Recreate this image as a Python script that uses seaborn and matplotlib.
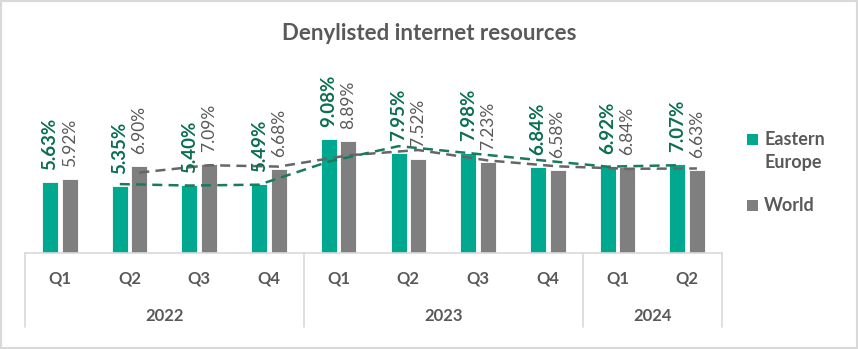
import numpy as np
import pandas as pd
import matplotlib
matplotlib.use("Agg")
import matplotlib.pyplot as plt
import seaborn as sns
from matplotlib.patches import Rectangle

# ---- data ----
quarters = ["Q1", "Q2", "Q3", "Q4", "Q1", "Q2", "Q3", "Q4", "Q1", "Q2"]
years = ["2022"] * 4 + ["2023"] * 4 + ["2024"] * 2
year_groups = ["2022", "2023", "2024"]
eastern_europe = [5.63, 5.35, 5.40, 5.49, 9.08, 7.95, 7.98, 6.84, 6.92, 7.07]
world = [5.92, 6.90, 7.09, 6.68, 8.89, 7.52, 7.23, 6.58, 6.84, 6.63]
series_names = ["Eastern Europe", "World"]
legend_labels = ["Eastern\nEurope", "World"]
title = "Denylisted internet resources"

# ---- style ----
sns.set_theme(style="white")
plt.rcParams["font.family"] = ["Lato", "DejaVu Sans"]

TEXT = "#595959"
TEAL = "#00A88F"
GRAY = "#7F7F7F"
TEAL_DARK = "#0B6E52"
LINE_GRAY = "#D9D9D9"

periods = [f"{y} {q}" for y, q in zip(years, quarters)]
df = pd.DataFrame({
    "period": periods * 2,
    "value": eastern_europe + world,
    "series": [series_names[0]] * len(periods) + [series_names[1]] * len(periods),
})

W, H = 858, 349
fig = plt.figure(figsize=(W / 100, H / 100), dpi=100)
ax_left, ax_right, ax_bottom, ax_top = 25, 722, 253, 60
ax = fig.add_axes([ax_left / W, 1 - ax_bottom / H, (ax_right - ax_left) / W, (ax_bottom - ax_top) / H])

palette = {series_names[0]: TEAL, series_names[1]: GRAY}
sns.barplot(data=df, x="period", y="value", hue="series", palette=palette,
            width=0.56, gap=0.18, saturation=1, ax=ax, legend=False,
            edgecolor="white", linewidth=0.6, order=periods, hue_order=series_names)

ax.set_xlim(-0.5, len(periods) - 0.5)
ax.set_ylim(0, (ax_bottom - ax_top) / 12.55)

# ---- 2-period moving average trendlines ----
x = np.arange(len(periods))
off = 0.14
ma_ee = pd.Series(eastern_europe).rolling(2).mean()
ma_w = pd.Series(world).rolling(2).mean()
sns.lineplot(x=x[1:] + off, y=ma_w.values[1:], ax=ax, color="#666666", lw=1.8,
             linestyle=(0, (4, 2.5)), sort=False, zorder=5)
sns.lineplot(x=x[1:] - off, y=ma_ee.values[1:], ax=ax, color="#1A7A5E", lw=1.8,
             linestyle=(0, (4, 2.5)), sort=False, zorder=6)

# ---- data labels ----
for container, vals, color, weight, size in [
    (ax.containers[0], eastern_europe, TEAL_DARK, "bold", 13.5),
    (ax.containers[1], world, TEXT, "normal", 12.5),
]:
    for bar, v in zip(container, vals):
        ax.annotate(f"{v:.2f}%", (bar.get_x() + bar.get_width() / 2, bar.get_height()),
                    xytext=(0, 12), textcoords="offset pixels", rotation=90,
                    ha="center", va="bottom", color=color, fontweight=weight,
                    fontsize=size, zorder=7)

# ---- category axis (quarters + years) ----
ax.set_xticks([])
ax.set_yticks([])
ax.set_xlabel("")
ax.set_ylabel("")
for s in ["top", "left", "right"]:
    ax.spines[s].set_visible(False)
ax.spines["bottom"].set_color(LINE_GRAY)
ax.spines["bottom"].set_linewidth(1.2)

trans = ax.get_xaxis_transform()
hpx = ax_bottom - ax_top
y_q = -(279 - ax_bottom) / hpx
y_y = -(316 - ax_bottom) / hpx
y_end = -(327 - ax_bottom) / hpx
for i, q in enumerate(quarters):
    ax.text(i, y_q, q, transform=trans, ha="center", va="center",
            fontsize=12, fontweight="bold", color=TEXT)

bounds = [-0.5]
for g in year_groups:
    idx = [i for i, y in enumerate(years) if y == g]
    lo, hi = idx[0] - 0.5, idx[-1] + 0.5
    bounds.append(hi)
    ax.text((lo + hi) / 2, y_y, g, transform=trans, ha="center", va="center",
            fontsize=12, fontweight="bold", color=TEXT)
for b in bounds:
    ax.plot([b, b], [0, y_end], transform=trans, color=LINE_GRAY, lw=1.2, clip_on=False)

# ---- legend (square swatch aligned with first label line) ----
def fx(px):
    return px / W

def fy(py):
    return 1 - py / H

legend_entries = [
    (TEAL, 134, [145, 168]),
    (GRAY, 200, [211]),
]
for (color, sq_top, baselines), label in zip(legend_entries, legend_labels):
    fig.patches.append(Rectangle((fx(747), fy(sq_top + 11)), 11 / W, 11 / H,
                                 transform=fig.transFigure, facecolor=color,
                                 edgecolor="none"))
    for line, bl in zip(label.split("\n"), baselines):
        fig.text(fx(764), fy(bl), line, ha="left", va="baseline",
                 fontsize=13, fontweight="bold", color=TEXT)

# ---- title ----
fig.text(429 / W, 1 - 40 / H, title, ha="center", va="baseline",
         fontsize=16, fontweight="bold", color=TEXT)

# ---- figure border ----
fig.patches.append(Rectangle((0, 0), 1, 1, transform=fig.transFigure, fill=False,
                             edgecolor=LINE_GRAY, lw=3))

fig.savefig("out.png", dpi=100)
